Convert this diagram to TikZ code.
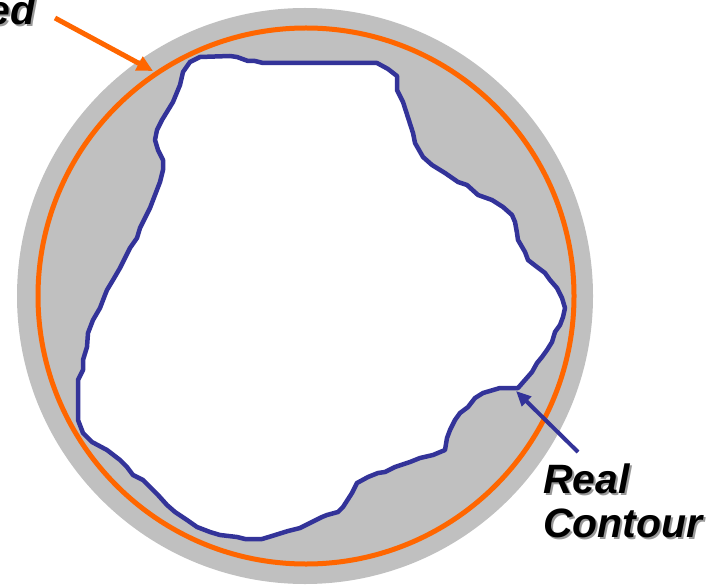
\documentclass[tikz,border=0pt]{standalone}
\usepackage{fontspec}
\setmainfont{Liberation Sans}
\usetikzlibrary{arrows.meta}

\definecolor{ringgray}{HTML}{C0C0C0}
\definecolor{fitorange}{HTML}{FF6600}
\definecolor{contourblue}{HTML}{333399}

% text with a soft grey drop shadow
\newcommand{\shadowed}[1]{\rlap{\textcolor{black!40}{\kern2pt\raisebox{-2pt}{#1}}}#1}

\tikzset{
  bigtext/.style={inner sep=0pt, font=\fontsize{41}{46}\selectfont\bfseries\itshape},
}

\begin{document}
\begin{tikzpicture}[x=1pt, y=-1pt, line join=round]
  \useasboundingbox (0,0) rectangle (719,585);
  \clip (0,0) rectangle (719,585);

  % 灰色圆盘
  \fill[ringgray] (305,296) circle (288);

  % 真实轮廓（内部白色）
  \filldraw[fill=white, draw=contourblue, line width=4.5pt]
    (157,130) -- (162,120) -- (173,102) -- (180,85) -- (183,72) -- (190,62)
    -- (200,57) -- (230,56) -- (237,57) -- (248,61) -- (255,61) -- (263,63)
    -- (377,63) -- (388,69) -- (397,76) -- (397,90) -- (403,102) -- (413,133)
    -- (415,143) -- (423,157) -- (432,165) -- (445,173) -- (458,182) -- (467,185)
    -- (478,195) -- (492,200) -- (503,207) -- (512,215) -- (515,222) -- (517,233)
    -- (518,240) -- (525,252) -- (528,260) -- (537,267) -- (545,273) -- (550,280)
    -- (557,288) -- (562,298) -- (565,308) -- (563,317) -- (560,325) -- (555,332)
    -- (552,342) -- (547,350) -- (542,357) -- (537,363) -- (532,372) -- (525,380)
    -- (518,388) -- (500,388) -- (483,393) -- (475,398) -- (468,407) -- (460,413)
    -- (455,420) -- (450,430) -- (447,438) -- (445,450) -- (433,455) -- (420,458)
    -- (410,462) -- (395,467) -- (385,472) -- (378,473) -- (368,477) -- (357,483)
    -- (352,493) -- (343,507) -- (338,512) -- (327,515) -- (322,517) -- (312,522)
    -- (300,528) -- (288,531) -- (272,536) -- (262,539) -- (245,539) -- (237,537)
    -- (220,535) -- (210,532) -- (197,527) -- (187,520) -- (175,512) -- (167,505)
    -- (158,495) -- (150,487) -- (143,480) -- (133,475) -- (127,467) -- (120,460)
    -- (107,450) -- (92,442) -- (83,433) -- (78,420) -- (78,393) -- (78,380)
    -- (83,370) -- (83,360) -- (87,347) -- (88,333) -- (93,320) -- (100,308)
    -- (105,295) -- (107,290) -- (113,280) -- (120,268) -- (125,258) -- (130,248)
    -- (137,238) -- (140,228) -- (145,218) -- (150,208) -- (155,195) -- (160,182)
    -- (163,170) -- (163,160) -- (158,150) -- (155,140) -- cycle;

  % 拟合圆
  \draw[fitorange, line width=5pt] (306,296) circle (268);

  % 标注
  \node[bigtext, anchor=base east] (edlabel) at (36,25) {\shadowed{ed}};
  \node[bigtext, anchor=base west] (reallabel) at (543,493) {\shadowed{Real}};
  \node[bigtext, anchor=base west] (contlabel) at (543,537) {\shadowed{Contour}};

  % 箭头
  \coordinate (fitstart) at (55,18);
  \coordinate (fittip) at (153,71);
  \draw[fitorange, line width=5pt, -{Triangle[length=16pt, width=15pt]}] (fitstart) -- (fittip);
  \coordinate (realstart) at (578,452);
  \coordinate (realtip) at (516,391);
  \draw[contourblue, line width=4pt, -{Triangle[length=15pt, width=13pt]}] (realstart) -- (realtip);
\end{tikzpicture}
\end{document}
